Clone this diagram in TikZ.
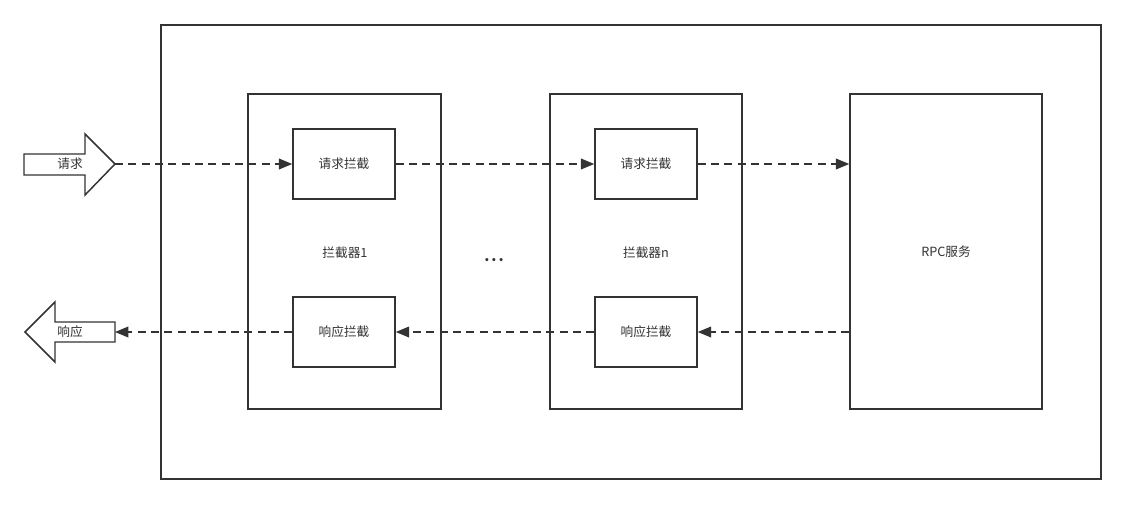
\documentclass[tikz,border=0pt]{standalone}
\usepackage{fontspec}
\setmainfont{Noto Sans CJK SC}
\usetikzlibrary{arrows.meta}
\definecolor{ln}{HTML}{333333}
\begin{document}
\begin{tikzpicture}[x=0.75pt,y=-0.75pt,
  box/.style={draw=ln,line width=1.1pt,fill=white,inner sep=0pt},
  lbl/.style={font=\fontsize{9.5}{11}\selectfont,text=ln},
  flow/.style={draw=ln,line width=1.1pt,dash pattern=on 6pt off 4pt,-{Triangle[length=10pt,width=8pt]}}]
\useasboundingbox (0,0) rectangle (1126,504);
\draw[box] (161,25) rectangle (1101,479);
% interceptor 1
\draw[box] (248,94) rectangle (441,409);
\node[lbl] (i1) at (345,253) {拦截器1};
\node[box,lbl,minimum width=76.5pt,minimum height=52.5pt] (q1) at (344,164) {请求拦截};
\node[box,lbl,minimum width=76.5pt,minimum height=52.5pt] (r1) at (344,332) {响应拦截};
% interceptor n
\draw[box] (550,94) rectangle (742,409);
\node[lbl] (in) at (646,253) {拦截器n};
\node[box,lbl,minimum width=76.5pt,minimum height=52.5pt] (qn) at (646,164) {请求拦截};
\node[box,lbl,minimum width=76.5pt,minimum height=52.5pt] (rn) at (646,332) {响应拦截};
% rpc
\node[box,lbl,minimum width=144pt,minimum height=236.25pt] (rpc) at (946,251.5) {RPC服务};
\node[lbl,font=\fontsize{11}{12}\selectfont\bfseries] (dots) at (494,260) {.\hspace{1.5pt}.\hspace{1.5pt}.};
% block arrows
\draw[ln,line width=1.1pt,fill=white] (24,154) -- (85,154) -- (85,134) -- (115,164) -- (85,195) -- (85,175) -- (24,175) -- cycle;
\coordinate (reqtip) at (115,164);
\node[lbl] (req) at (70,164) {请求};
\draw[ln,line width=1.1pt,fill=white] (115,322) -- (55,322) -- (55,302) -- (25,332) -- (55,362) -- (55,342) -- (115,342) -- cycle;
\coordinate (resend) at (115,332);
\node[lbl] (res) at (70,332) {响应};
% flows
\draw[flow] (reqtip) -- (q1.west);
\draw[flow] (q1.east) -- (qn.west);
\draw[flow] (qn.east) -- (rpc.west |- qn.east);
\draw[flow] (rpc.west |- rn.east) -- (rn.east);
\draw[flow] (rn.west) -- (r1.east);
\draw[flow] (r1.west) -- (resend);
\end{tikzpicture}
\end{document}
